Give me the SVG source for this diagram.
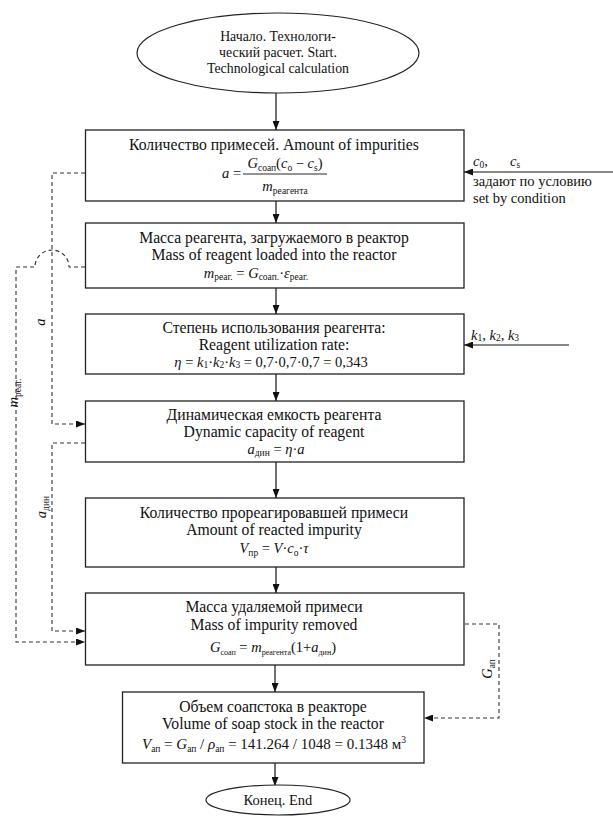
<svg xmlns="http://www.w3.org/2000/svg" width="613" height="825" viewBox="0 0 613 825">
<style>
  .box{fill:#fff;stroke:#222;stroke-width:1.3}
  .t{font-family:"Liberation Serif","Times New Roman",serif;font-size:15.7px;fill:#111;text-anchor:middle}
  .f{font-family:"Liberation Serif","Times New Roman",serif;font-size:14.5px;fill:#111;text-anchor:middle}
  .e{font-family:"Liberation Serif","Times New Roman",serif;font-size:13.8px;fill:#111;text-anchor:middle}
  .l{font-family:"Liberation Serif","Times New Roman",serif;font-size:14.5px;fill:#111}
  .i{font-style:italic}
  .s{font-size:9.5px}
  .ss{font-size:8px}
  .c{stroke:#111;stroke-width:1.2;fill:none}
  .d{stroke:#333;stroke-width:1.1;fill:none;stroke-dasharray:4 3}
</style>
<defs>
  <marker id="ah" markerWidth="9" markerHeight="7" refX="9" refY="3.5" orient="auto" markerUnits="userSpaceOnUse">
    <path d="M0,0 L9,3.5 L0,7 z" fill="#111"/>
  </marker>
</defs>
<rect width="613" height="825" fill="#fff"/>

<g id="connectors">
  <line class="c" x1="276" y1="93" x2="276" y2="130" marker-end="url(#ah)"/>
  <line class="c" x1="276" y1="201" x2="276" y2="223" marker-end="url(#ah)"/>
  <line class="c" x1="276" y1="288" x2="276" y2="314" marker-end="url(#ah)"/>
  <line class="c" x1="276" y1="374" x2="276" y2="401" marker-end="url(#ah)"/>
  <line class="c" x1="276" y1="462" x2="276" y2="498" marker-end="url(#ah)"/>
  <line class="c" x1="276" y1="567" x2="276" y2="593" marker-end="url(#ah)"/>
  <line class="c" x1="275" y1="665" x2="275" y2="692" marker-end="url(#ah)"/>
  <line class="c" x1="275" y1="763" x2="275" y2="786" marker-end="url(#ah)"/>
  <line class="c" x1="613" y1="172" x2="464" y2="172" marker-end="url(#ah)"/>
  <line class="c" x1="569" y1="345" x2="464" y2="345" marker-end="url(#ah)"/>
  <path class="d" d="M85,173 H52 V424 H85" marker-end="url(#ah)"/>
  <path class="d" d="M85,267 H69 A17,17 0 0,0 35,267 H16 V642 H85" marker-end="url(#ah)"/>
  <path class="d" d="M85,443 H52 V631 H85" marker-end="url(#ah)"/>
  <path class="d" d="M465,624 H499 V718 H424" marker-end="url(#ah)"/>
  <text class="l i" transform="translate(45,322) rotate(-90)" text-anchor="middle">a</text>
  <text class="l" transform="translate(18,393) rotate(-90)" text-anchor="middle"><tspan class="i">m</tspan><tspan class="s" dy="3">реаг.</tspan></text>
  <text class="l" transform="translate(46,507) rotate(-90)" text-anchor="middle"><tspan class="i">a</tspan><tspan class="s" dy="3">дин</tspan></text>
  <text class="l" transform="translate(492,669) rotate(-90)" text-anchor="middle"><tspan class="i">G</tspan><tspan class="s" dy="3">ап</tspan></text>
</g>

<g id="start">
  <ellipse cx="278" cy="53" rx="141" ry="40" fill="#fff" stroke="#222" stroke-width="1.2"/>
  <text class="e" x="278" y="41">Начало. Технологи-</text>
  <text class="e" x="278" y="57">ческий расчет. Start.</text>
  <text class="e" x="278" y="73">Technological calculation</text>
</g>

<g id="impurities">
  <rect class="box" x="85.5" y="130" width="378.5" height="71"/>
  <text class="t" x="274" y="150">Количество примесей. Amount of impurities</text>
  <text class="l" x="222" y="178"><tspan class="i">a</tspan> =</text>
  <text class="f" x="285" y="168"><tspan class="i">G</tspan><tspan class="s" dy="3">соап</tspan><tspan dy="-3">(</tspan><tspan class="i">c</tspan><tspan class="s" dy="3">о</tspan><tspan dy="-3"> − </tspan><tspan class="i">c</tspan><tspan class="s" dy="3">s</tspan><tspan dy="-3">)</tspan></text>
  <line x1="243" y1="174" x2="327" y2="174" stroke="#111" stroke-width="0.9"/>
  <text class="f" x="285" y="191"><tspan class="i">m</tspan><tspan class="s" dy="3">реагента</tspan></text>
</g>

<g id="inputs-c">
  <text class="l" x="473" y="166"><tspan class="i">c</tspan><tspan class="s" dy="2">0</tspan><tspan dy="-2">,</tspan></text>
  <text class="l" x="510" y="166"><tspan class="i">c</tspan><tspan class="s" dy="2">s</tspan></text>
  <text class="l" x="473" y="186">задают по условию</text>
  <text class="l" x="473" y="203">set by condition</text>
</g>

<g id="reagent-mass">
  <rect class="box" x="85.5" y="223" width="378.5" height="65"/>
  <text class="t" x="274" y="243">Масса реагента, загружаемого в реактор</text>
  <text class="t" x="274" y="260">Mass of reagent loaded into the reactor</text>
  <text class="f" x="256" y="278"><tspan class="i">m</tspan><tspan class="s" dy="2">реаг.</tspan><tspan dy="-2"> = </tspan><tspan class="i">G</tspan><tspan class="s" dy="2">соап.</tspan><tspan dy="-2">·</tspan><tspan class="i">ε</tspan><tspan class="s" dy="2">реаг.</tspan></text>
</g>

<g id="utilization">
  <rect class="box" x="85.5" y="314" width="378.5" height="60"/>
  <text class="t" x="274" y="333">Степень использования реагента:</text>
  <text class="t" x="274" y="350">Reagent utilization rate:</text>
  <text class="f" x="271" y="367"><tspan class="i">η</tspan> = <tspan class="i">k</tspan><tspan class="s" dy="1">1</tspan><tspan dy="-1">·</tspan><tspan class="i">k</tspan><tspan class="s" dy="1">2</tspan><tspan dy="-1">·</tspan><tspan class="i">k</tspan><tspan class="s" dy="1">3</tspan><tspan dy="-1"> = 0,7·0,7·0,7 = 0,343</tspan></text>
</g>

<g id="inputs-k">
  <text class="l" x="471" y="340"><tspan class="i">k</tspan><tspan class="s" dy="1">1</tspan><tspan dy="-1">, </tspan><tspan class="i">k</tspan><tspan class="s" dy="1">2</tspan><tspan dy="-1">, </tspan><tspan class="i">k</tspan><tspan class="s" dy="1">3</tspan></text>
</g>

<g id="dynamic-capacity">
  <rect class="box" x="85.5" y="401" width="378.5" height="61"/>
  <text class="t" x="274" y="420">Динамическая емкость реагента</text>
  <text class="t" x="274" y="437">Dynamic capacity of reagent</text>
  <text class="f" x="276" y="454"><tspan class="i">a</tspan><tspan class="s" dy="2">дин</tspan><tspan dy="-2"> = </tspan><tspan class="i">η</tspan>·<tspan class="i">a</tspan></text>
</g>

<g id="reacted">
  <rect class="box" x="85.5" y="498" width="378.5" height="69"/>
  <text class="t" x="274" y="518">Количество прореагировавшей примеси</text>
  <text class="t" x="274" y="535">Amount of reacted impurity</text>
  <text class="f" x="274" y="553"><tspan class="i">V</tspan><tspan class="s" dy="3">пр</tspan><tspan dy="-3"> = </tspan><tspan class="i">V</tspan>·<tspan class="i">c</tspan><tspan class="s" dy="3">о</tspan><tspan dy="-3">·</tspan><tspan class="i">τ</tspan></text>
</g>

<g id="removed">
  <rect class="box" x="85.5" y="593" width="378.5" height="72"/>
  <text class="t" x="274" y="612">Масса удаляемой примеси</text>
  <text class="t" x="274" y="630">Mass of impurity removed</text>
  <text class="f" x="273" y="652"><tspan class="i">G</tspan><tspan class="ss" dy="3">соап</tspan><tspan dy="-3"> = </tspan><tspan class="i">m</tspan><tspan class="ss" dy="3">реагента</tspan><tspan dy="-3">(1+</tspan><tspan class="i">a</tspan><tspan class="ss" dy="3">дин</tspan><tspan dy="-3">)</tspan></text>
</g>

<g id="volume">
  <rect class="box" x="122.5" y="692" width="301.5" height="71"/>
  <text class="t" x="273" y="712">Объем соапстока в реакторе</text>
  <text class="t" x="273" y="729">Volume of soap stock in the reactor</text>
  <text class="f" x="274" y="749" style="font-size:15px"><tspan class="i">V</tspan><tspan class="s" dy="3">ап</tspan><tspan dy="-3"> = </tspan><tspan class="i">G</tspan><tspan class="s" dy="3">ап</tspan><tspan dy="-3"> / </tspan><tspan class="i">ρ</tspan><tspan class="s" dy="3">ап</tspan><tspan dy="-3"> = 141.264 / 1048 = 0.1348  м</tspan><tspan class="s" dy="-6">3</tspan></text>
</g>

<g id="end">
  <ellipse cx="278" cy="800" rx="72" ry="15" fill="#fff" stroke="#222" stroke-width="1.2"/>
  <text class="e" x="278" y="805" style="font-size:14.5px">Конец. End</text>
</g>
</svg>
